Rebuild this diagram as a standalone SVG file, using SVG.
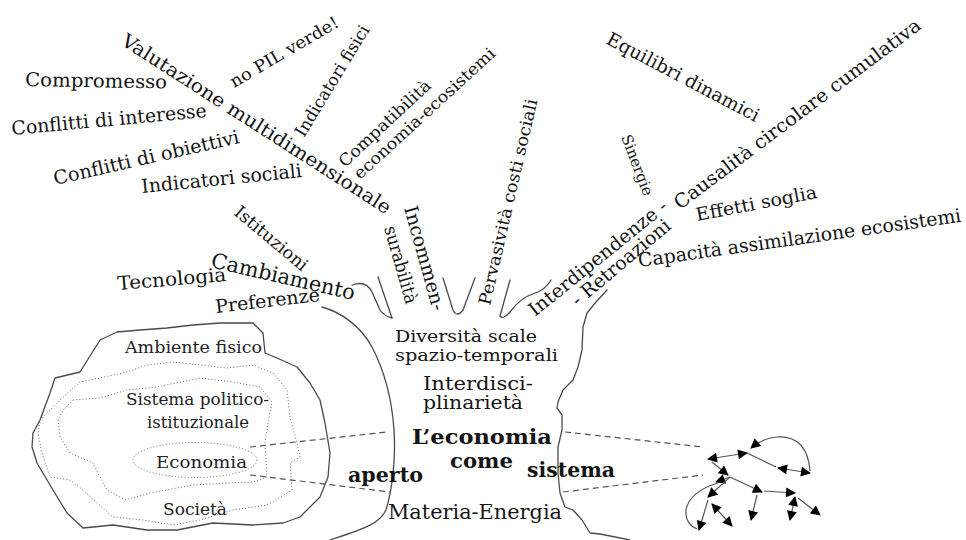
<svg xmlns="http://www.w3.org/2000/svg" width="966" height="540" viewBox="0 0 966 540">
<style>
text{font-family:"DejaVu Serif","Liberation Serif",serif;fill:#151515}
.t19{font-size:19px}
.t17{font-size:17px}
.c{font-size:16.5px}
.b{font-size:19.5px;font-weight:bold}
.blob{font-size:16px;fill:#222}
.ln{fill:none;stroke:#4a4a4a;stroke-width:1.3;stroke-linejoin:round;stroke-linecap:round}
.dot{fill:none;stroke:#666;stroke-width:1;stroke-dasharray:1 2.2}
.dash{fill:none;stroke:#555;stroke-width:1.2;stroke-dasharray:6 4}
.net{fill:none;stroke:#555;stroke-width:1.2}
</style>
<defs>
<marker id="ah" viewBox="0 0 10 10" refX="9" refY="5" markerWidth="11" markerHeight="10" markerUnits="userSpaceOnUse" orient="auto-start-reverse">
<path d="M0,0 L10,5 L0,10 z" fill="#000"/>
</marker>
</defs>
<rect width="966" height="540" fill="#fff"/>

<g id="labels-left">
<text class="t19" transform="translate(25,86) rotate(1)" textLength="142" lengthAdjust="spacingAndGlyphs">Compromesso</text>
<text class="t19" transform="translate(12,135) rotate(-5.3)" textLength="196" lengthAdjust="spacingAndGlyphs">Conflitti di interesse</text>
<text class="t19" transform="translate(55,185) rotate(-12.8)" textLength="190" lengthAdjust="spacingAndGlyphs">Conflitti di obiettivi</text>
<text class="t19" transform="translate(142,193) rotate(-5.7)" textLength="161" lengthAdjust="spacingAndGlyphs">Indicatori sociali</text>
<text class="t19" transform="translate(120,44) rotate(32.7)" textLength="316" lengthAdjust="spacingAndGlyphs">Valutazione multidimensionale</text>
<text class="t17" transform="translate(234,88) rotate(-30.3)" textLength="123" lengthAdjust="spacingAndGlyphs">no PIL verde!</text>
<text class="t17" transform="translate(304,138) rotate(-58.6)" textLength="127" lengthAdjust="spacingAndGlyphs">Indicatori fisici</text>
<text style="font-size:16.5px" transform="translate(345,168) rotate(-43)" textLength="119" lengthAdjust="spacingAndGlyphs">Compatibilità</text>
<text style="font-size:16.5px" transform="translate(360,180) rotate(-42.5)" textLength="185" lengthAdjust="spacingAndGlyphs">economia-ecosistemi</text>
<text class="t17" transform="translate(490,306) rotate(-77)" textLength="211" lengthAdjust="spacingAndGlyphs">Pervasività costi sociali</text>
<text class="t19" transform="translate(404,208) rotate(74.4)" textLength="108" lengthAdjust="spacingAndGlyphs">Incommen-</text>
<text style="font-size:18px" transform="translate(384,228) rotate(74)" textLength="80" lengthAdjust="spacingAndGlyphs">surabilità</text>
<text style="font-size:17.5px" transform="translate(233,214) rotate(40)" textLength="90" lengthAdjust="spacingAndGlyphs">Istituzioni</text>
<text style="font-size:21px" transform="translate(210,267) rotate(13)" textLength="147" lengthAdjust="spacingAndGlyphs">Cambiamento</text>
<text class="t19" transform="translate(118,290) rotate(-4.7)" textLength="109" lengthAdjust="spacingAndGlyphs">Tecnologia</text>
<text style="font-size:18.5px" transform="translate(216,313) rotate(-6.6)" textLength="105" lengthAdjust="spacingAndGlyphs">Preferenze</text>
</g>

<g id="labels-right">
<text style="font-size:18.5px" transform="translate(605,43) rotate(27.8)" textLength="170" lengthAdjust="spacingAndGlyphs">Equilibri dinamici</text>
<text class="t19" transform="translate(680,210) rotate(-36.9)" textLength="303" lengthAdjust="spacingAndGlyphs">Causalità circolare cumulativa</text>
<text style="font-size:15px" transform="translate(621,137) rotate(69)" textLength="64" lengthAdjust="spacingAndGlyphs">Sinergie</text>
<text class="t19" transform="translate(535,317) rotate(-39)" textLength="172" lengthAdjust="spacingAndGlyphs">Interdipendenze -</text>
<text class="t19" transform="translate(578,307) rotate(-40)" textLength="123" lengthAdjust="spacingAndGlyphs">- Retroazioni</text>
<text style="font-size:18px" transform="translate(697,221) rotate(-10.8)" textLength="123" lengthAdjust="spacingAndGlyphs">Effetti soglia</text>
<text class="t19" transform="translate(639,267) rotate(-8)" textLength="326" lengthAdjust="spacingAndGlyphs">Capacità assimilazione ecosistemi</text>
</g>

<g id="tree">
<path class="ln" d="M322,307 C340,312 360,325 372,347 C385,372 392,400 394,430 C396,460 392,490 386,510 C379,525 360,530 330,540"/>
<path class="ln" d="M607,290 L596,302 L587,313 L583,327 L582,350 L578,367 L573,380 L563,390 L558,402 L557,408 L562,415 L562,430 L558,447 L558,473 L560,493 L565,507 L573,510 L582,520 L590,533 L600,534 L630,540"/>
<path class="ln" d="M352,285 Q366,280 372,292 L380,310 Q384,316 392,318"/>
<path class="ln" d="M378,277 L392,318"/>
<path class="ln" d="M443,278 L453,310 Q457,318 463,310 L475,278"/>
<path class="ln" d="M510,280 L500,316 Q503,320 510,312 Q520,298 535,293 Q545,290 551,280"/>
</g>

<g id="trunk-text">
<text class="c" x="395" y="342" textLength="142" lengthAdjust="spacingAndGlyphs">Diversità scale</text>
<text class="c" x="395" y="361" textLength="163" lengthAdjust="spacingAndGlyphs">spazio-temporali</text>
<text style="font-size:18px" x="423" y="390" textLength="110" lengthAdjust="spacingAndGlyphs">Interdisci-</text>
<text style="font-size:18px" x="423" y="409" textLength="100" lengthAdjust="spacingAndGlyphs">plinarietà</text>
<text class="b" x="412" y="444" textLength="140" lengthAdjust="spacingAndGlyphs">L’economia</text>
<text class="b" x="450" y="468" textLength="63" lengthAdjust="spacingAndGlyphs">come</text>
<text class="b" x="527" y="477" textLength="88" lengthAdjust="spacingAndGlyphs">sistema</text>
<text class="b" x="348" y="482" textLength="75" lengthAdjust="spacingAndGlyphs">aperto</text>
<text style="font-size:20px" x="388" y="519" textLength="174" lengthAdjust="spacingAndGlyphs">Materia-Energia</text>
</g>

<g id="systems">
<path class="ln" d="M55,378 L80,372 L100,340 L117,332 L140,330 L167,328 L193,325 L220,323 L253,323 L263,333 L265,353 L277,358 L297,367 L310,383 L320,400 L325,423 L330,453 L328,477 L320,497 L300,517 L283,523 L253,525 L213,523 L177,530 L147,530 L113,525 L83,528 L67,513 L53,490 L37,463 L32,447 L33,433 L40,420 L50,393 Z"/>
<path class="dot" d="M40,420 L60,400 L80,382 L100,378 L127,372 L147,365 L173,362 L200,365 L227,368 L253,365 L273,373 L287,390 L290,417 L297,443 L300,457 L290,463 L292,490 L267,505 L233,510 L200,520 L173,525 L143,520 L113,517 L83,490 L70,480 L50,477 L42,453 L38,433 Z"/>
<path class="dot" d="M73,400 L100,398 L127,390 L157,387 L200,378 L233,382 L260,387 L272,402 L268,423 L265,443 L267,477 L253,482 L227,483 L193,485 L150,493 L125,500 L107,490 L100,477 L93,463 L70,453 L60,437 L58,420 L63,410 Z"/>
<ellipse class="dot" cx="195" cy="460" rx="62" ry="17.5"/>
<text class="blob" x="125" y="353" textLength="137" lengthAdjust="spacingAndGlyphs">Ambiente fisico</text>
<text class="blob" x="126" y="405" textLength="143" lengthAdjust="spacingAndGlyphs">Sistema politico-</text>
<text class="blob" x="147" y="428" textLength="102" lengthAdjust="spacingAndGlyphs">istituzionale</text>
<text class="blob" x="156" y="468" textLength="91" lengthAdjust="spacingAndGlyphs">Economia</text>
<text class="blob" x="163" y="515" textLength="64" lengthAdjust="spacingAndGlyphs">Società</text>
</g>

<g id="connectors">
<path class="dash" d="M250,447 L387,432"/>
<path class="dash" d="M565,432 L703,447"/>
<path class="dash" d="M250,475 L390,492"/>
<path class="dash" d="M563,492 L703,475"/>
</g>

<g id="network">
<path class="net" d="M810,471 C808,445 795,436 777,437 C766,438 758,442 751,448" marker-end="url(#ah)"/>
<path class="net" d="M708,459 L747,453" marker-start="url(#ah)" marker-end="url(#ah)"/>
<path class="net" d="M747,453 L776,467"/>
<path class="net" d="M810,473 L778,468" marker-start="url(#ah)" marker-end="url(#ah)"/>
<path class="net" d="M712,462 L728,475" marker-end="url(#ah)"/>
<path class="net" d="M730,477 L762,492" marker-end="url(#ah)"/>
<path class="net" d="M730,477 L716,482" marker-end="url(#ah)"/>
<path class="net" d="M718,483 C700,488 688,498 686,510 C685,520 690,526 697,529"/>
<path class="net" d="M730,477 L708,497" marker-end="url(#ah)"/>
<path class="net" d="M708,500 L699,530" marker-end="url(#ah)"/>
<path class="net" d="M712,504 L732,526" marker-start="url(#ah)" marker-end="url(#ah)"/>
<path class="net" d="M757,495 L751,520" marker-end="url(#ah)"/>
<path class="net" d="M764,491 L795,493" marker-end="url(#ah)"/>
<path class="net" d="M795,497 L790,520" marker-start="url(#ah)" marker-end="url(#ah)"/>
<path class="net" d="M798,498 L820,515" marker-end="url(#ah)"/>
</g>
</svg>
